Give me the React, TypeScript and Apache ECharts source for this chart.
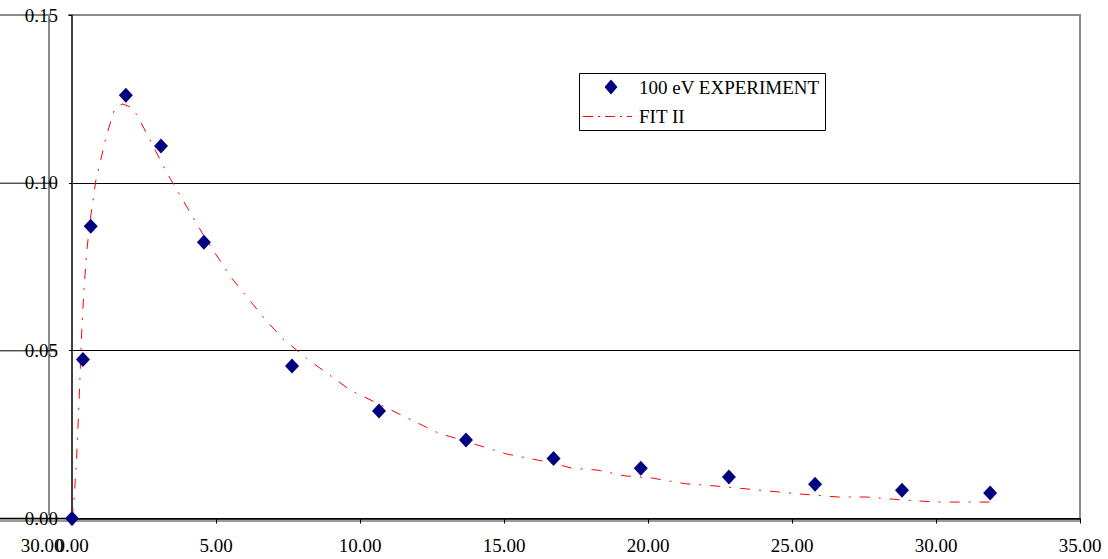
import React, { useEffect, useRef } from "react";
import * as echarts from "echarts";

// Measured yield at 100 eV
const expX = [0, 0.38, 0.65, 1.87, 3.09, 4.58, 7.64, 10.66, 13.68, 16.72, 19.75, 22.81, 25.80, 28.82, 31.88];
const expY = [0, 0.0474, 0.0871, 0.1261, 0.1110, 0.0823, 0.0454, 0.0320, 0.0234, 0.0179, 0.0150, 0.0124, 0.0102, 0.0084, 0.0076];

// FIT II curve samples
const fitX = [0, 0.07, 0.16, 0.24, 0.34, 0.42, 0.51, 0.63, 0.83, 1.08, 1.18, 1.46, 1.74, 2.05, 2.26, 2.67, 3.30, 4.58, 5.49, 6.67, 7.29, 8.13, 9.65, 12.71, 15.10, 16.53, 17.36, 18.26, 19.20, 20.10, 21.35, 22.33, 23.44, 25.28, 26.60, 27.60, 28.85, 30.07, 31.63, 31.88];
const fitY = [0, 0.0055, 0.0180, 0.0338, 0.0562, 0.0687, 0.0794, 0.0889, 0.1008, 0.1098, 0.1136, 0.1215, 0.1235, 0.1226, 0.1202, 0.1134, 0.1029, 0.0842, 0.0722, 0.0597, 0.0538, 0.0478, 0.0383, 0.0255, 0.0192, 0.0168, 0.0150, 0.0144, 0.0127, 0.0121, 0.0103, 0.0097, 0.0088, 0.0073, 0.0064, 0.0064, 0.0055, 0.0049, 0.0049, 0.0049];

const seriesNames = ["100 eV EXPERIMENT", "FIT II"];
const xTicks = { min: 0, max: 35, interval: 5 };
const yTicks = { min: 0, max: 0.15, interval: 0.05 };
const strayLabel = "30.00";

const FONT = "Liberation Serif";
const FS = 19;
const NAVY = "#000080";
const RED = "#ff0000";
const FIT_DASH = [10, 9, 2, 9];

export default function App() {
  const ref = useRef<HTMLDivElement>(null);

  useEffect(() => {
    if (!ref.current) return;
    const chart = echarts.init(ref.current, undefined, { renderer: "svg" });

    const gridLeft = 72;
    const gridRight = 1080;
    const gridTop = 15;
    const gridBottom = 518.5;
    const yGridPx = [183.2, 350.8];

    const leftStubs = yGridPx.map((y) => ({
      type: "line",
      shape: { x1: 0, y1: y, x2: 57, y2: y },
      style: { stroke: "#000", lineWidth: 1 },
      silent: true,
    }));

    // legend box
    const lg = { x: 579, y: 73, w: 246, h: 57 };
    const legendGraphic = [
      {
        type: "rect",
        shape: { x: lg.x + 0.5, y: lg.y + 0.5, width: lg.w, height: lg.h },
        style: { fill: "#fff", stroke: "#000", lineWidth: 1 },
        z: 20,
        silent: true,
      },
      {
        type: "polygon",
        shape: { points: [[611, 79.5], [617.5, 87], [611, 94.5], [604.5, 87]] },
        style: { fill: NAVY },
        z: 21,
        silent: true,
      },
      {
        type: "text",
        x: 639,
        y: 87,
        style: { text: seriesNames[0], fill: "#000", font: `${FS}px ${FONT}`, verticalAlign: "middle" },
        z: 21,
        silent: true,
      },
      {
        type: "line",
        shape: { x1: 583, y1: 116.5, x2: 632, y2: 116.5 },
        style: { stroke: RED, lineWidth: 1, lineDash: [10, 5, 2, 5] },
        z: 21,
        silent: true,
      },
      {
        type: "text",
        x: 639,
        y: 116,
        style: { text: seriesNames[1], fill: "#000", font: `${FS}px ${FONT}`, verticalAlign: "middle" },
        z: 21,
        silent: true,
      },
    ];

    chart.setOption({
      animation: false,
      backgroundColor: "#fff",
      grid: {
        left: gridLeft,
        right: 1108 - gridRight,
        top: gridTop,
        bottom: 559 - gridBottom,
      },
      xAxis: {
        type: "value",
        min: xTicks.min,
        max: xTicks.max,
        interval: xTicks.interval,
        axisLine: { show: true, onZero: false, lineStyle: { color: "#000", width: 1.5 } },
        axisTick: { show: true, length: 5, lineStyle: { color: "#000" } },
        axisLabel: {
          margin: 17,
          color: "#000",
          fontFamily: FONT,
          fontSize: FS,
          formatter: (v: number) => v.toFixed(2),
        },
        splitLine: { show: false },
      },
      yAxis: {
        type: "value",
        min: yTicks.min,
        max: yTicks.max,
        interval: yTicks.interval,
        axisLine: { show: true, lineStyle: { color: "#404040", width: 2 } },
        axisTick: { show: true, length: 3, lineStyle: { color: "#000" } },
        axisLabel: {
          margin: 14,
          color: "#000",
          fontFamily: FONT,
          fontSize: FS,
          formatter: (v: number) => v.toFixed(2),
        },
        splitLine: {
          show: true,
          lineStyle: { color: ["#000", "#000", "#000", "rgba(0,0,0,0)"], width: 1 },
        },
      },
      legend: { show: false },
      graphic: [
        // plot frame (top and right), gray
        {
          type: "line",
          shape: { x1: gridLeft + 1, y1: gridTop, x2: gridRight + 1, y2: gridTop },
          style: { stroke: "#8a8a8a", lineWidth: 2 },
          silent: true,
        },
        {
          type: "line",
          shape: { x1: gridRight, y1: gridTop, x2: gridRight, y2: gridBottom + 2 },
          style: { stroke: "#8a8a8a", lineWidth: 2 },
          silent: true,
        },
        // gray band under the x axis
        {
          type: "line",
          shape: { x1: 0, y1: gridBottom + 2.3, x2: gridRight + 1, y2: gridBottom + 2.3 },
          style: { stroke: "#9a9a9a", lineWidth: 2.4 },
          silent: true,
          z: -1,
        },
        // left strip: extended lines and secondary frame
        {
          type: "line",
          shape: { x1: 0, y1: gridTop, x2: 50, y2: gridTop },
          style: { stroke: "#8a8a8a", lineWidth: 2 },
          silent: true,
        },
        {
          type: "line",
          shape: { x1: 49, y1: gridTop, x2: 49, y2: gridBottom - 3 },
          style: { stroke: "#8a8a8a", lineWidth: 2 },
          silent: true,
        },
        {
          type: "line",
          shape: { x1: 0, y1: gridBottom, x2: gridLeft, y2: gridBottom },
          style: { stroke: "#000", lineWidth: 1.5 },
          silent: true,
        },
        {
          type: "line",
          shape: { x1: 68, y1: gridTop, x2: 71, y2: gridTop },
          style: { stroke: "#000", lineWidth: 1 },
          silent: true,
        },
        ...leftStubs,
        {
          type: "text",
          x: 42,
          y: 545,
          style: {
            text: strayLabel,
            fill: "#000",
            font: `${FS}px ${FONT}`,
            align: "center",
            verticalAlign: "middle",
          },
          silent: true,
        },
        ...legendGraphic,
      ],
      series: [
        {
          name: seriesNames[0],
          type: "scatter",
          symbol: "diamond",
          symbolSize: [14, 15],
          itemStyle: { color: NAVY, opacity: 1 },
          z: 5,
          data: expX.map((x, i) => [x, expY[i]]),
        },
        {
          name: seriesNames[1],
          type: "line",
          showSymbol: false,
          symbol: "none",
          smooth: false,
          lineStyle: { color: RED, width: 1, type: FIT_DASH },
          itemStyle: { color: RED },
          z: 3,
          data: fitX.map((x, i) => [x, fitY[i]]),
        },
      ],
    });

    return () => chart.dispose();
  }, []);

  return (
    <div
      ref={ref}
      style={{ position: "fixed", left: 0, top: 0, width: 1108, height: 559, background: "#fff" }}
    />
  );
}
